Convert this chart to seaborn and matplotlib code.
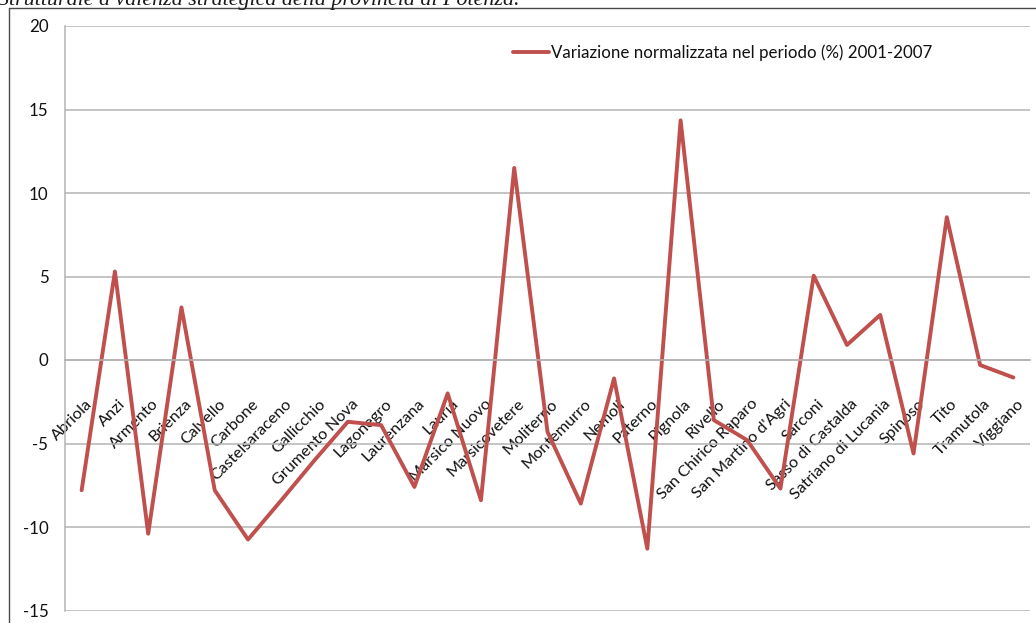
import matplotlib
matplotlib.use("Agg")
import matplotlib.pyplot as plt
from matplotlib.lines import Line2D
from matplotlib.ticker import FixedLocator
import matplotlib.transforms as mtransforms
import numpy as np
import pandas as pd
import seaborn as sns

# Comuni della provincia e variazione normalizzata (%) 2001-2007
comuni = [
    "Abriola", "Anzi", "Armento", "Brienza", "Calvello", "Carbone",
    "Castelsaraceno", "Gallicchio", "Grumento Nova", "Lagonegro",
    "Laurenzana", "Lauria", "Marsico Nuovo", "Marsicovetere", "Moliterno",
    "Montemurro", "Nemoli", "Paterno", "Pignola", "Rivello",
    "San Chirico Raparo", "San Martino d'Agri", "Sarconi",
    "Sasso di Castalda", "Satriano di Lucania", "Spinoso", "Tito",
    "Tramutola", "Viggiano",
]
variazione = [
    -7.8, 5.3, -10.4, 3.15, -7.8, -10.75,
    -8.4, -6.0, -3.7, -3.9,
    -7.6, -2.0, -8.4, 11.5, -4.3,
    -8.6, -1.1, -11.3, 14.35, -3.6,
    -4.8, -7.7, 5.05,
    0.9, 2.7, -5.6, 8.55,
    -0.3, -1.05,
]
serie = "Variazione normalizzata nel periodo (%) 2001-2007"
y_ticks = [-15, -10, -5, 0, 5, 10, 15, 20]
didascalia = "Strutturale a valenza strategica della provincia di Potenza."

sns.set_theme(style="white")
plt.rcParams["font.family"] = ["Lato", "DejaVu Sans"]

W, H = 1036, 623
fig = plt.figure(figsize=(W / 100, H / 100), dpi=100)
ax = fig.add_axes([65 / W, 1 - 610.5 / H, (1030 - 65) / W, (610.5 - 26) / H])

grid_col = "#B4B4B4"
line_col = "#C0504D"
text_col = "#111111"
fs = 12.2

df = pd.DataFrame({"Comune": comuni, "Variazione": variazione})
sns.lineplot(data=df, x="Comune", y="Variazione", sort=False,
             color=line_col, lw=2.8, ax=ax, label=serie)

n = len(comuni)
ax.set_xlim(-0.5, n - 0.5)
ax.set_ylim(y_ticks[0], y_ticks[-1])
ax.set_yticks(y_ticks)
ax.set_yticklabels([str(v) for v in y_ticks])
ax.set_xlabel("")
ax.set_ylabel("")

# horizontal gridlines
ax.yaxis.grid(True, color=grid_col, lw=1.1)
ax.xaxis.grid(False)
ax.set_axisbelow(True)

# spines: vertical axis on the left, category axis crossing at zero
for s in ("top", "right"):
    ax.spines[s].set_visible(False)
ax.spines["left"].set_color(grid_col)
ax.spines["left"].set_linewidth(1.1)
ax.spines["bottom"].set_position(("data", 0))
ax.spines["bottom"].set_color(grid_col)
ax.spines["bottom"].set_linewidth(1.1)

ax.tick_params(axis="y", length=5, width=1.1, color=grid_col,
               labelsize=fs, pad=7, labelcolor=text_col)

ax.set_xticks(range(n))
ax.set_xticklabels(comuni)
ax.xaxis.set_minor_locator(FixedLocator(np.arange(-0.5, n, 1.0)))
ax.tick_params(axis="x", which="minor", length=4, width=1.1,
               color=grid_col, direction="out")
ax.tick_params(axis="x", which="major", length=0, pad=26.5,
               labelsize=11.7, labelcolor=text_col)
shift = mtransforms.ScaledTranslation(2.5 / 72, 0, fig.dpi_scale_trans)
for lbl in ax.get_xticklabels():
    lbl.set_rotation(45)
    lbl.set_ha("right")
    lbl.set_va("top")
    lbl.set_rotation_mode("anchor")
    lbl.set_transform(lbl.get_transform() + shift)

leg = ax.legend(loc="center left", bbox_to_anchor=(513 / W, 1 - 53 / H),
                bbox_transform=fig.transFigure, frameon=False,
                borderpad=0, borderaxespad=0, handlelength=2.1,
                handletextpad=0.15, fontsize=fs)
for t in leg.get_texts():
    t.set_color(text_col)

# outer chart frame (left and top edges)
frame_col = "#4a4a4a"
fig.add_artist(Line2D([8.5 / W, 8.5 / W], [0, 1 - 8 / H],
                      transform=fig.transFigure, color=frame_col, lw=1.0))
fig.add_artist(Line2D([8.5 / W, 1], [1 - 8 / H, 1 - 8 / H],
                      transform=fig.transFigure, color=frame_col, lw=1.0))

# running caption above the chart
fig.text(-2 / W, 1 - 5 / H, didascalia, family="Liberation Serif",
         style="italic", fontsize=15.8, va="baseline", ha="left",
         color="#1a1a1a")

fig.savefig("out.png", dpi=100)
